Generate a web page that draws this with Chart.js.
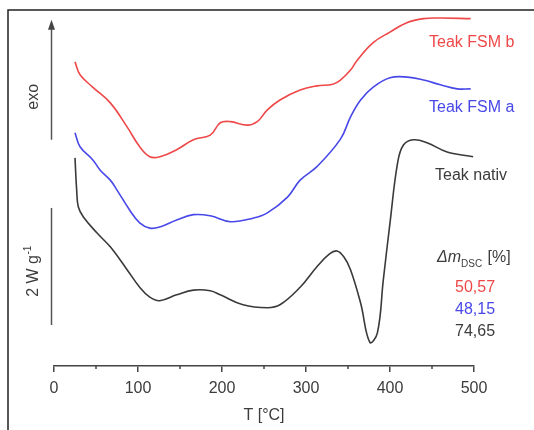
<!DOCTYPE html>
<html>
<head>
<meta charset="utf-8">
<script src="https://cdn.jsdelivr.net/npm/chart.js@4/dist/chart.umd.min.js"></script>
<style>
  html, body { margin: 0; padding: 0; background: #fff; }
  canvas { display: block; }
</style>
</head>
<body>
<canvas id="c" width="534" height="430"></canvas>
<script>
// ---- Data (T in °C, heat flow in W/g, curves offset) ----
const seriesNames = ["Teak FSM b", "Teak FSM a", "Teak nativ"];
const massLoss = ["50,57", "48,15", "74,65"];

const fsmB_T = [25, 31, 46, 67, 87, 102, 114, 126, 146, 166, 186, 198, 210, 230, 242, 254, 269, 293, 313, 332, 341, 353, 361, 380, 400, 420, 440, 460, 496];
const fsmB_Y = [5.23, 5.01, 4.80, 4.53, 4.12, 3.78, 3.61, 3.61, 3.73, 3.90, 3.98, 4.19, 4.21, 4.15, 4.21, 4.41, 4.58, 4.75, 4.82, 4.85, 4.92, 5.09, 5.26, 5.56, 5.74, 5.90, 5.97, 5.98, 5.97];

const fsmA_T = [25, 31, 46, 55, 67, 75, 90, 102, 114, 126, 146, 166, 186, 210, 237, 254, 278, 293, 313, 341, 353, 365, 380, 400, 421, 440, 460, 480, 496];
const fsmA_Y = [4.02, 3.78, 3.56, 3.38, 3.21, 3.04, 2.70, 2.48, 2.39, 2.41, 2.53, 2.62, 2.60, 2.50, 2.56, 2.65, 2.92, 3.21, 3.44, 3.91, 4.29, 4.58, 4.80, 4.96, 4.97, 4.92, 4.84, 4.77, 4.77];

const nativ_T = [25, 27, 29, 35, 51, 67, 87, 102, 114, 126, 146, 166, 186, 198, 225, 254, 269, 293, 313, 328, 337, 345, 353, 365, 376, 385, 392, 400, 409, 416, 428, 444, 468, 499];
const nativ_Y = [3.59, 3.04, 2.75, 2.58, 2.31, 2.07, 1.68, 1.38, 1.21, 1.15, 1.25, 1.33, 1.32, 1.25, 1.08, 1.03, 1.08, 1.38, 1.73, 1.95, 2.00, 1.90, 1.68, 1.11, 0.44, 0.60, 1.50, 2.48, 3.50, 3.81, 3.90, 3.85, 3.69, 3.61];

const xTicks = [0, 100, 200, 300, 400, 500];
const xMinorTicks = [50, 150, 250, 350, 450];
const scaleBar = [0.735, 2.735];   // 2 W g^-1 bar
const exoArrow = [3.90, 5.95];

const RED = "rgb(238,72,72)";
const BLUE = "rgb(72,72,232)";
const DARK = "rgb(58,58,58)";
const TEXT = "rgb(60,60,60)";
const FONT = "'Liberation Sans', Arial, sans-serif";

const toXY = (ts, ys) => ts.map((t, i) => ({ x: t, y: ys[i] }));

const decor = {
  id: "decor",
  beforeDraw(chart) {
    const ctx = chart.ctx;
    ctx.save();
    ctx.fillStyle = "#fff";
    ctx.fillRect(0, 0, chart.width, chart.height);
    ctx.strokeStyle = "#222";
    ctx.lineWidth = 1.5;
    ctx.beginPath();
    ctx.moveTo(8, 430);
    ctx.lineTo(8, 10);
    ctx.lineTo(534, 10);
    ctx.stroke();
    ctx.restore();
  },
  afterDraw(chart) {
    const ctx = chart.ctx;
    const xs = chart.scales.x, ys = chart.scales.y;
    const X = v => xs.getPixelForValue(v);
    const Y = v => ys.getPixelForValue(v);
    ctx.save();
    ctx.strokeStyle = "#444";
    ctx.lineWidth = 1.5;
    xMinorTicks.forEach(v => {
      ctx.beginPath();
      ctx.moveTo(X(v), xs.top);
      ctx.lineTo(X(v), xs.top + 3);
      ctx.stroke();
    });
    const ax = xs.left - 2.5;
    ctx.strokeStyle = "#555";
    ctx.fillStyle = "#444";
    ctx.beginPath();
    ctx.moveTo(ax, Y(exoArrow[0]));
    ctx.lineTo(ax, Y(exoArrow[1]) + 8);
    ctx.stroke();
    ctx.beginPath();
    ctx.moveTo(ax, Y(exoArrow[1]));
    ctx.lineTo(ax - 3.5, Y(exoArrow[1]) + 10);
    ctx.lineTo(ax + 3.5, Y(exoArrow[1]) + 10);
    ctx.closePath();
    ctx.fill();
    ctx.beginPath();
    ctx.moveTo(ax, Y(scaleBar[0]));
    ctx.lineTo(ax, Y(scaleBar[1]));
    ctx.stroke();

    ctx.fillStyle = TEXT;
    ctx.font = "16px " + FONT;
    ctx.textAlign = "center";
    ctx.textBaseline = "middle";
    ctx.save();
    ctx.translate(34, (Y(exoArrow[0]) + Y(exoArrow[1])) / 2 + 17);
    ctx.rotate(-Math.PI / 2);
    ctx.fillText("exo", 0, 0);
    ctx.restore();

    ctx.save();
    ctx.translate(34, (Y(scaleBar[0]) + Y(scaleBar[1])) / 2 + 5);
    ctx.rotate(-Math.PI / 2);
    const p1 = "2 W g";
    ctx.font = "16px " + FONT;
    const w1 = ctx.measureText(p1).width;
    ctx.font = "10px " + FONT;
    const w2 = ctx.measureText("-1").width;
    const start = -(w1 + w2) / 2;
    ctx.textAlign = "left";
    ctx.font = "16px " + FONT;
    ctx.fillText(p1, start, 0);
    ctx.font = "10px " + FONT;
    ctx.fillText("-1", start + w1 + 0.5, -6);
    ctx.restore();

    ctx.textAlign = "left";
    ctx.font = "16px " + FONT;
    ctx.fillStyle = RED;  ctx.fillText(seriesNames[0], 429, 43);
    ctx.fillStyle = BLUE; ctx.fillText(seriesNames[1], 429, 108);
    ctx.fillStyle = TEXT; ctx.fillText(seriesNames[2], 435, 176);

    let x0 = 437;
    ctx.fillStyle = TEXT;
    ctx.font = "italic 16px " + FONT;
    ctx.fillText("Δm", x0, 258);
    x0 += ctx.measureText("Δm").width;
    ctx.font = "10px " + FONT;
    ctx.fillText("DSC", x0, 264);
    x0 += ctx.measureText("DSC").width + 1;
    ctx.font = "16px " + FONT;
    ctx.fillText(" [%]", x0, 258);

    ctx.font = "16px " + FONT;
    ctx.fillStyle = RED;  ctx.fillText(massLoss[0], 455, 288);
    ctx.fillStyle = BLUE; ctx.fillText(massLoss[1], 455, 310);
    ctx.fillStyle = TEXT; ctx.fillText(massLoss[2], 455, 332);
    ctx.restore();
  }
};

const lineDs = (label, data, color) => ({
  label, data, borderColor: color, borderWidth: 1.6,
  pointRadius: 0, fill: false, tension: 0.4
});

new Chart(document.getElementById("c"), {
  type: "line",
  data: {
    datasets: [
      lineDs(seriesNames[0], toXY(fsmB_T, fsmB_Y), RED),
      lineDs(seriesNames[1], toXY(fsmA_T, fsmA_Y), BLUE),
      lineDs(seriesNames[2], toXY(nativ_T, nativ_Y), DARK)
    ]
  },
  options: {
    responsive: false,
    animation: false,
    devicePixelRatio: 1,
    layout: { padding: { left: 54, right: 60, top: 11, bottom: 0 } },
    plugins: { legend: { display: false }, tooltip: { enabled: false } },
    scales: {
      x: {
        type: "linear", min: 0, max: 500,
        afterBuildTicks(s) { s.ticks = xTicks.map(v => ({ value: v })); },
        afterFit(s) { s.height = 64; },
        border: { display: true, color: "#444", width: 1.5 },
        grid: { drawOnChartArea: false, drawTicks: true, tickLength: 6, color: "#444", lineWidth: 1.5 },
        ticks: { color: TEXT, font: { family: FONT, size: 16 }, padding: 7, maxRotation: 0 },
        title: { display: true, text: "T [°C]", color: TEXT, font: { family: FONT, size: 16 }, padding: { top: 0, bottom: 5 } }
      },
      y: { type: "linear", min: 0.034, max: 6.1, display: false }
    }
  },
  plugins: [decor]
});
</script>
</body>
</html>
